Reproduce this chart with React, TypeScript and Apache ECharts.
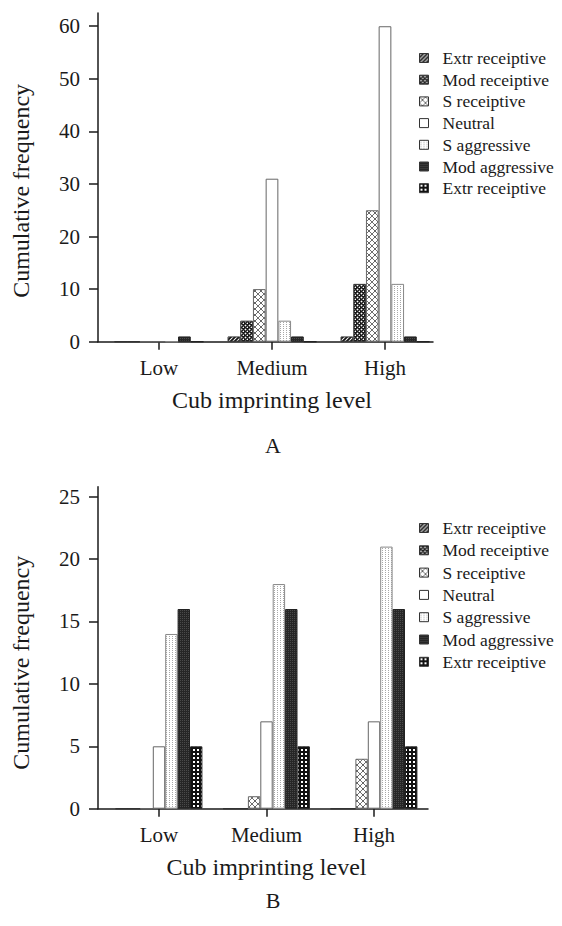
import React, { useEffect, useRef } from 'react';
import * as echarts from 'echarts';

// ---- Data ----
const categories = ['Low', 'Medium', 'High'];
const seriesKeys = ['s0', 's1', 's2', 's3', 's4', 's5', 's6'];
const legendLabels = [
  'Extr receiptive',
  'Mod receiptive',
  'S receiptive',
  'Neutral',
  'S aggressive',
  'Mod aggressive',
  'Extr receiptive',
];

// Chart A (Low, Medium, High)
const aExtrRec = [0, 1, 1];
const aModRec = [0, 4, 11];
const aSRec = [0, 10, 25];
const aNeutral = [0, 31, 60];
const aSAgg = [0, 4, 11];
const aModAgg = [1, 1, 1];
const aExtrAgg = [0, 0, 0];

// Chart B (Low, Medium, High)
const bExtrRec = [0, 0, 0];
const bModRec = [0, 0, 0];
const bSRec = [0, 1, 4];
const bNeutral = [5, 7, 7];
const bSAgg = [14, 18, 21];
const bModAgg = [16, 16, 16];
const bExtrAgg = [5, 5, 5];

const yTicksA = [0, 10, 20, 30, 40, 50, 60];
const yTicksB = [0, 5, 10, 15, 20, 25];

const xTitle = 'Cub imprinting level';
const yTitle = 'Cumulative frequency';

const FONT = 'Liberation Serif';
const INK = '#1a1a1a';

function tile(w: number, h: number, draw: (c: CanvasRenderingContext2D) => void) {
  const cv = document.createElement('canvas');
  cv.width = w;
  cv.height = h;
  const ctx = cv.getContext('2d') as CanvasRenderingContext2D;
  draw(ctx);
  return { image: cv.toDataURL(), repeat: 'repeat', imageWidth: w, imageHeight: h } as any;
}

function makePatterns() {
  const hatch = tile(4, 4, (c) => {
    c.fillStyle = '#fff';
    c.fillRect(0, 0, 4, 4);
    c.strokeStyle = '#111';
    c.lineWidth = 1.8;
    c.beginPath();
    c.moveTo(-1, 5); c.lineTo(5, -1);
    c.moveTo(-1, 1); c.lineTo(1, -1);
    c.moveTo(3, 5); c.lineTo(5, 3);
    c.stroke();
  });
  const modRec = tile(4, 4, (c) => {
    c.fillStyle = '#1a1a1a';
    c.fillRect(0, 0, 4, 4);
    c.fillStyle = '#6a6a6a';
    [[1, 0], [0, 1], [2, 1], [1, 2], [3, 2], [2, 3]].forEach(([x, y]) => c.fillRect(x, y, 1, 1));
    c.fillStyle = '#fff';
    c.fillRect(1, 1, 1, 1);
    c.fillRect(3, 3, 1, 1);
  });
  const sRec = tile(6, 6, (c) => {
    c.fillStyle = '#fff';
    c.fillRect(0, 0, 6, 6);
    c.strokeStyle = '#707070';
    c.lineWidth = 1;
    c.beginPath();
    c.moveTo(0, 0); c.lineTo(6, 6);
    c.moveTo(6, 0); c.lineTo(0, 6);
    c.stroke();
    c.fillStyle = '#444';
    c.fillRect(2.5, 2.5, 1, 1);
  });
  const neutral = '#ffffff';
  const sAgg = tile(3, 2, (c) => {
    c.fillStyle = '#fff';
    c.fillRect(0, 0, 3, 2);
    c.fillStyle = '#a8a8a8';
    c.fillRect(1, 0, 1, 1);
  });
  const modAgg = tile(2, 2, (c) => {
    c.fillStyle = '#262626';
    c.fillRect(0, 0, 2, 2);
    c.fillStyle = '#4a4a4a';
    c.fillRect(0, 0, 1, 1);
  });
  const extrAgg = tile(4, 4, (c) => {
    c.fillStyle = '#111';
    c.fillRect(0, 0, 4, 4);
    c.fillStyle = '#fff';
    c.fillRect(1, 1, 2, 2);
  });
  return [hatch, modRec, sRec, neutral, sAgg, modAgg, extrAgg];
}

const borderColors = ['#333', '#333', '#666', '#666', '#888', '#222', '#222'];

export default function App() {
  const ref = useRef<HTMLDivElement>(null);

  useEffect(() => {
    const el = ref.current as HTMLDivElement;
    const chart = echarts.init(el, null, { renderer: 'svg' });
    const patterns = makePatterns();

    const valuesA = [aExtrRec, aModRec, aSRec, aNeutral, aSAgg, aModAgg, aExtrAgg];
    const valuesB = [bExtrRec, bModRec, bSRec, bNeutral, bSAgg, bModAgg, bExtrAgg];

    const maxA = 62.5;
    const maxB = 25.8;

    const axisLineStyle = { color: INK, width: 1.5 };
    const tickLabel = { fontFamily: FONT, fontSize: 21, color: INK };

    const frameX = (gridIndex: number) => ({
      gridIndex,
      type: 'value',
      min: 0,
      max: 1,
      axisLine: { show: true, lineStyle: axisLineStyle },
      axisTick: { show: false },
      axisLabel: { show: false },
      splitLine: { show: false },
    });
    const barX = (gridIndex: number) => ({
      gridIndex,
      type: 'category',
      data: categories,
      axisLine: { show: false },
      axisTick: { show: true, alignWithLabel: true, length: 8, lineStyle: axisLineStyle },
      axisLabel: { ...tickLabel, margin: 16 },
      splitLine: { show: false },
      name: xTitle,
      nameLocation: 'middle',
      nameGap: 46,
      nameTextStyle: { fontFamily: FONT, fontSize: 24, color: INK },
    });
    const frameY = (gridIndex: number, max: number, interval: number, ticks: number[], shift: number) => ({
      gridIndex,
      type: 'value',
      min: 0,
      max,
      interval,
      axisLine: { show: true, lineStyle: axisLineStyle },
      axisTick: { show: true, length: 9, lineStyle: axisLineStyle, customValues: ticks },
      axisLabel: { ...tickLabel, margin: 18, customValues: ticks },
      splitLine: { show: false },
      name: yTitle,
      nameLocation: 'middle',
      nameRotate: 90,
      nameGap: 65,
      nameTextStyle: { fontFamily: FONT, fontSize: 24, color: INK, padding: [0, shift, 0, 0] },
    });
    const barY = (gridIndex: number, max: number) => ({
      gridIndex,
      type: 'value',
      min: 0,
      max,
      show: false,
    });

    const legend = (top: number, gap: number) => ({
      orient: 'vertical',
      left: 419,
      top,
      padding: 0,
      itemWidth: 9,
      itemHeight: 9,
      itemGap: gap,
      icon: 'rect',
      selectedMode: false,
      data: seriesKeys,
      formatter: (name: string) => legendLabels[seriesKeys.indexOf(name)],
      itemStyle: { borderColor: '#333', borderWidth: 1 },
      textStyle: { fontFamily: FONT, fontSize: 17.5, color: INK, lineHeight: 18, padding: [0, 0, 0, 9] },
    });

    const series: any[] = [];
    valuesA.forEach((vals, i) => {
      series.push({
        type: 'bar',
        name: seriesKeys[i],
        xAxisIndex: 1,
        yAxisIndex: 1,
        data: vals,
        barWidth: 12.7,
        barGap: '0%',
        itemStyle: { color: patterns[i], borderColor: borderColors[i], borderWidth: 1 },
      });
    });
    valuesB.forEach((vals, i) => {
      series.push({
        type: 'bar',
        name: seriesKeys[i],
        xAxisIndex: 3,
        yAxisIndex: 3,
        data: vals,
        barWidth: 12.4,
        barGap: '0%',
        itemStyle: { color: patterns[i], borderColor: borderColors[i], borderWidth: 1 },
      });
    });

    const option: any = {
      animation: false,
      backgroundColor: '#ffffff',
      textStyle: { fontFamily: FONT, color: INK },
      grid: [
        { left: 98, top: 13.1, width: 335, height: 328.6, outerBoundsMode: 'none' },
        { left: 102.5, top: 13.1, width: 339, height: 328.6, outerBoundsMode: 'none' },
        { left: 98, top: 486.7, width: 330, height: 322, outerBoundsMode: 'none' },
        { left: 105.25, top: 486.7, width: 322.5, height: 322, outerBoundsMode: 'none' },
      ],
      xAxis: [frameX(0), barX(1), frameX(2), barX(3)],
      yAxis: [
        frameY(0, maxA, 10, yTicksA, 27),
        barY(1, maxA),
        frameY(2, maxB, 5, yTicksB, 30),
        barY(3, maxB),
      ],
      legend: [legend(49, 3.7), legend(519, 4.3)],
      graphic: [
        {
          type: 'text',
          x: 273,
          y: 445.5,
          style: { text: 'A', font: `22px "${FONT}"`, fill: INK, textAlign: 'center', textVerticalAlign: 'middle' },
        },
        {
          type: 'text',
          x: 273,
          y: 900.5,
          style: { text: 'B', font: `22px "${FONT}"`, fill: INK, textAlign: 'center', textVerticalAlign: 'middle' },
        },
      ],
      series,
    };

    chart.setOption(option);
    return () => chart.dispose();
  }, []);

  return (
    <div
      ref={ref}
      style={{ position: 'fixed', left: 0, top: 0, width: 562, height: 926, background: '#fff' }}
    />
  );
}
